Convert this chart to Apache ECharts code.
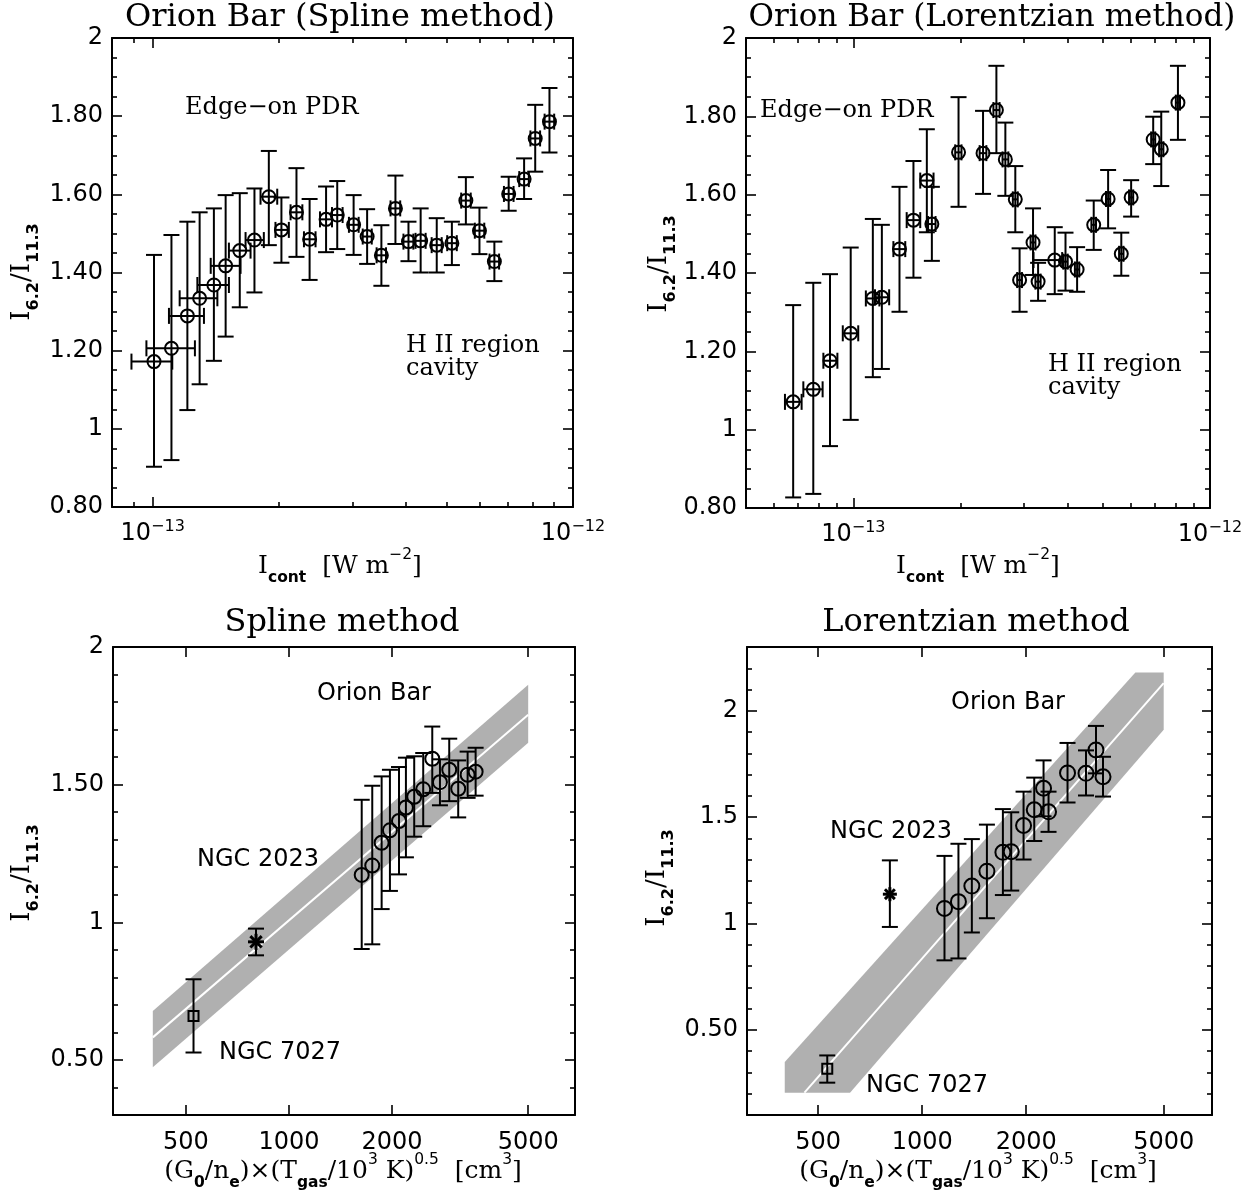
<!DOCTYPE html>
<html><head><meta charset="utf-8">
<script src="https://cdn.jsdelivr.net/npm/echarts@6/dist/echarts.min.js"></script>
<style>html,body{margin:0;padding:0;background:#fff}#c{width:1258px;height:1197px}</style>
</head><body><div id="c"></div>
<script>
// ---------- Top-left: Orion Bar, Spline method ----------
const splineX   = [1.007e-13,1.108e-13,1.209e-13,1.293e-13,1.398e-13,1.491e-13,1.611e-13,1.746e-13,1.889e-13,2.024e-13,2.198e-13,2.362e-13,2.585e-13,2.748e-13,3.006e-13,3.237e-13,3.50e-13,3.78e-13,4.06e-13,4.34e-13,4.74e-13,5.15e-13,5.56e-13,5.99e-13,6.50e-13,7.03e-13,7.65e-13,8.13e-13,8.79e-13];
const splineY   = [1.172,1.206,1.289,1.334,1.368,1.417,1.456,1.483,1.594,1.509,1.554,1.485,1.536,1.547,1.522,1.492,1.444,1.564,1.479,1.481,1.470,1.475,1.584,1.507,1.428,1.601,1.639,1.743,1.786];
const splineYLo = [0.903,0.920,1.048,1.114,1.174,1.236,1.311,1.349,1.470,1.425,1.440,1.381,1.452,1.460,1.445,1.422,1.366,1.473,1.429,1.400,1.400,1.419,1.523,1.447,1.378,1.558,1.588,1.658,1.707];
const splineYHi = [1.445,1.496,1.530,1.554,1.564,1.598,1.603,1.615,1.711,1.592,1.667,1.588,1.620,1.634,1.598,1.562,1.521,1.648,1.530,1.564,1.539,1.530,1.644,1.566,1.479,1.645,1.692,1.829,1.872];
const splineXLo = [0.890e-13,0.966e-13,1.093e-13,1.159e-13,1.277e-13,1.374e-13,1.518e-13,1.663e-13,1.805e-13,1.959e-13,2.128e-13,2.29e-13,2.50e-13,2.67e-13,2.93e-13,3.16e-13,3.41e-13,3.68e-13,3.95e-13,4.22e-13,4.61e-13,5.02e-13,5.42e-13,5.84e-13,6.33e-13,6.85e-13,7.45e-13,7.92e-13,8.56e-13];
const splineXHi = [1.113e-13,1.26e-13,1.324e-13,1.425e-13,1.518e-13,1.618e-13,1.709e-13,1.838e-13,1.978e-13,2.108e-13,2.27e-13,2.44e-13,2.67e-13,2.83e-13,3.09e-13,3.32e-13,3.59e-13,3.88e-13,4.17e-13,4.46e-13,4.87e-13,5.29e-13,5.71e-13,6.15e-13,6.67e-13,7.22e-13,7.85e-13,8.35e-13,9.02e-13];

// ---------- Top-right: Orion Bar, Lorentzian method ----------
const lorX   = [6.78e-14,7.72e-14,8.60e-14,9.83e-14,1.134e-13,1.202e-13,1.347e-13,1.474e-13,1.607e-13,1.66e-13,1.972e-13,2.31e-13,2.518e-13,2.668e-13,2.845e-13,2.925e-13,3.19e-13,3.296e-13,3.67e-13,3.934e-13,4.24e-13,4.72e-13,5.18e-13,5.64e-13,6.01e-13,6.93e-13,7.30e-13,8.13e-13];
const lorY   = [1.071,1.103,1.176,1.246,1.335,1.338,1.461,1.535,1.636,1.525,1.708,1.706,1.816,1.690,1.588,1.382,1.478,1.378,1.433,1.429,1.409,1.523,1.589,1.449,1.593,1.741,1.716,1.835];
const lorYLo = [0.827,0.836,0.958,1.025,1.134,1.155,1.301,1.388,1.504,1.431,1.569,1.602,1.706,1.597,1.504,1.301,1.395,1.329,1.346,1.355,1.352,1.459,1.514,1.393,1.544,1.678,1.622,1.740];
const lorYHi = [1.318,1.375,1.397,1.465,1.538,1.523,1.620,1.686,1.767,1.620,1.849,1.814,1.929,1.784,1.673,1.463,1.565,1.426,1.517,1.503,1.466,1.585,1.663,1.503,1.637,1.799,1.812,1.929];
const lorXLo = [6.43e-14,7.24e-14,8.24e-14,9.34e-14,1.084e-13,1.15e-13,1.295e-13,1.411e-13,1.54e-13,1.62e-13,1.93e-13,2.26e-13,2.47e-13,2.62e-13,2.80e-13,2.88e-13,3.14e-13,3.24e-13,3.20e-13,3.88e-13,4.18e-13,4.65e-13,5.11e-13,5.56e-13,5.93e-13,6.84e-13,7.20e-13,8.02e-13];
const lorXHi = [7.16e-14,8.20e-14,9.02e-14,1.032e-13,1.183e-13,1.26e-13,1.398e-13,1.54e-13,1.678e-13,1.70e-13,2.01e-13,2.36e-13,2.57e-13,2.72e-13,2.89e-13,2.97e-13,3.24e-13,3.35e-13,3.85e-13,3.99e-13,4.30e-13,4.79e-13,5.25e-13,5.72e-13,6.09e-13,7.02e-13,7.40e-13,8.24e-13];

// ---------- Bottom panels: (G0/ne)x(Tgas/1e3K)^0.5 of the first 14 Orion Bar points ----------
const splineG = [1631,1751,1865,1972,2096,2196,2322,2467,2622,2761,2939,3122,3326,3510];
const lorG    = [1160,1273,1392,1539,1712,1810,1965,2110,2245,2321,2634,2979,3184,3337];
// NGC objects: [x, y, yLo, yHi]
const splineNGC7027 = [526, 0.660, 0.527, 0.793];
const splineNGC2023 = [801, 0.929, 0.880, 0.977];
const lorNGC7027    = [531, 0.317, 0.252, 0.380];
const lorNGC2023    = [806, 1.138, 0.984, 1.297];
// relation bands (polygon vertices) and central lines
const splineBandX = [400, 5000, 5000, 400];
const splineBandY = [0.678, 1.863, 1.652, 0.473];
const splineLineX = [400, 5000];
const splineLineY = [0.582, 1.754];
const lorBandX = [400, 4140, 5000, 5000, 618, 400];
const lorBandY = [0.349, 2.18, 2.18, 1.911, 0.205, 0.205];
const lorLineX = [456, 5000];
const lorLineY = [0.205, 2.13];

// ---------- ticks ----------
const topXMajor = [1e-13, 1e-12];
const tlXMinor = [9e-14,2e-13,3e-13,4e-13,5e-13,6e-13,7e-13,8e-13,9e-13];
const trXMinor = [6e-14,7e-14,8e-14,9e-14,2e-13,3e-13,4e-13,5e-13,6e-13,7e-13,8e-13,9e-13];
const topYMajor = [0.8,1,1.2,1.4,1.6,1.8,2];
const topYLabels = ['0.80','1','1.20','1.40','1.60','1.80','2'];
const topYMinor = [0.85,0.9,0.95,1.05,1.1,1.15,1.25,1.3,1.35,1.45,1.5,1.55,1.65,1.7,1.75,1.85,1.9,1.95];
const botXMajor = [500,1000,2000,5000];
const botXLabels = ['500','1000','2000','5000'];
const blYMajor = [0.5,1,1.5,2];
const blYLabels = ['0.50','1','1.50','2'];
const blYMinor = [0.3,0.4,0.6,0.7,0.8,0.9,1.1,1.2,1.3,1.4,1.6,1.7,1.8,1.9];
const brYMajor = [0.5,1,1.5,2];
const brYLabels = ['0.50','1','1.5','2'];
const brYMinor = [0.2,0.3,0.4,0.6,0.7,0.8,0.9,1.1,1.2,1.3,1.4,1.6,1.7,1.8,1.9,2.1,2.2];

const FS = 'DejaVu Sans', FSERIF = 'DejaVu Serif';

function labelFrom(values, labels) {
  return function (v) {
    for (let i = 0; i < values.length; i++) if (Math.abs(values[i] - v) < 1e-9 * Math.max(1, Math.abs(v))) return labels[i];
    return '';
  };
}
function logFmt(v) {
  const e = Math.round(Math.log10(v));
  return '{b|10}{s|\u2212' + Math.abs(e) + '}';
}
const logRich = {
  b: {fontSize: 24, lineHeight: 30, fontFamily: FS, color: '#000'},
  s: {fontSize: 16, lineHeight: 16, fontFamily: FS, color: '#000', verticalAlign: 'top'}
};

function buildAxes(g, dim, type, min, max, majors, minors, formatter, rich, margin) {
  const main = dim === 'x' ? 'bottom' : 'left';
  const opp = dim === 'x' ? 'top' : 'right';
  const base = {gridIndex: g, type: type, min: min, max: max, splitLine: {show: false}, splitArea: {show: false}, minorTick: {show: false}, silent: true};
  if (type === 'log') base.logBase = 10;
  const line = {show: true, onZero: false, lineStyle: {color: '#000', width: 2}};
  const ts = {color: '#000', width: 1.6};
  const mk = (pos, axisLine, vals, len, label) => Object.assign({}, base, {
    position: pos, axisLine: axisLine,
    axisTick: {show: true, inside: true, length: len, customValues: vals, lineStyle: ts},
    axisLabel: label
  });
  const lab = {show: true, customValues: majors, formatter: formatter, margin: margin, color: '#000', fontFamily: FS, fontSize: 24};
  if (rich) lab.rich = rich;
  const arr = [
    mk(main, line, majors, 10, lab),
    mk(opp, line, majors, 10, {show: false})
  ];
  if (minors && minors.length) {
    arr.push(mk(main, {show: false}, minors, 5, {show: false}));
    arr.push(mk(opp, {show: false}, minors, 5, {show: false}));
  }
  return arr;
}

function errRender(marker, r, cap, lw) {
  return function (params, api) {
    const x = api.value(0), y = api.value(1);
    const c = api.coord([x, y]);
    const st = {stroke: '#000', lineWidth: lw};
    const ch = [];
    const L = (x1, y1, x2, y2) => ch.push({type: 'line', shape: {x1, y1, x2, y2}, style: st});
    const lo = api.value(2), hi = api.value(3);
    if (isFinite(lo) && isFinite(hi)) {
      const a = api.coord([x, lo]), b = api.coord([x, hi]);
      L(c[0], a[1], c[0], b[1]);
      L(c[0] - cap, a[1], c[0] + cap, a[1]);
      L(c[0] - cap, b[1], c[0] + cap, b[1]);
    }
    const xl = api.value(4), xh = api.value(5);
    if (isFinite(xl) && isFinite(xh)) {
      const a = api.coord([xl, y]), b = api.coord([xh, y]);
      L(a[0], c[1], b[0], c[1]);
      L(a[0], c[1] - cap, a[0], c[1] + cap);
      L(b[0], c[1] - cap, b[0], c[1] + cap);
    }
    if (marker === 'circle') {
      ch.push({type: 'circle', shape: {cx: c[0], cy: c[1], r: r}, style: {fill: 'none', stroke: '#000', lineWidth: 2}});
    } else if (marker === 'square') {
      ch.push({type: 'rect', shape: {x: c[0] - r, y: c[1] - r, width: 2 * r, height: 2 * r}, style: {fill: 'none', stroke: '#000', lineWidth: 2}});
    } else if (marker === 'star') {
      for (let k = 0; k < 4; k++) {
        const ang = k * Math.PI / 4;
        ch.push({type: 'line', shape: {x1: c[0] - r * Math.cos(ang), y1: c[1] - r * Math.sin(ang), x2: c[0] + r * Math.cos(ang), y2: c[1] + r * Math.sin(ang)}, style: {stroke: '#000', lineWidth: 3}});
      }
    }
    return {type: 'group', children: ch};
  };
}

function bandRender(xs, ys) {
  return function (params, api) {
    if (params.dataIndex !== 0) return null;
    const pts = xs.map((x, i) => api.coord([x, ys[i]]));
    return {type: 'polygon', shape: {points: pts}, style: {fill: '#b0b0b0', stroke: null}};
  };
}

const grids = [
  {left: 112, top: 38, width: 461, height: 469},
  {left: 746, top: 38, width: 464, height: 470},
  {left: 113, top: 647, width: 462, height: 468},
  {left: 747, top: 647, width: 465, height: 468}
];

const xAxes = [].concat(
  buildAxes(0, 'x', 'log', 8e-14, 1e-12, topXMajor, tlXMinor, logFmt, logRich, 12),
  buildAxes(1, 'x', 'log', 5e-14, 1e-12, topXMajor, trXMinor, logFmt, logRich, 12),
  buildAxes(2, 'x', 'log', 306, 6850, botXMajor, [], labelFrom(botXMajor, botXLabels), null, 16),
  buildAxes(3, 'x', 'log', 311, 6900, botXMajor, [], labelFrom(botXMajor, botXLabels), null, 16)
);
const yAxes = [].concat(
  buildAxes(0, 'y', 'value', 0.8, 2, topYMajor, topYMinor, labelFrom(topYMajor, topYLabels), null, 9),
  buildAxes(1, 'y', 'value', 0.8, 2, topYMajor, topYMinor, labelFrom(topYMajor, topYLabels), null, 9),
  buildAxes(2, 'y', 'value', 0.3, 2, blYMajor, blYMinor, labelFrom(blYMajor, blYLabels), null, 9),
  buildAxes(3, 'y', 'value', 0.1, 2.3, brYMajor, brYMinor, labelFrom(brYMajor, brYLabels), null, 9)
);
// axis index of the main (labelled) axis of each grid
const xi = [0, 4, 8, 10];
const yi = [0, 4, 8, 12];

function pts(xs, ys, lo, hi, xlo, xhi) {
  return xs.map((x, i) => xlo ? [x, ys[i], lo[i], hi[i], xlo[i], xhi[i]] : [x, ys[i], lo[i], hi[i]]);
}

const series = [
  {type: 'custom', xAxisIndex: xi[0], yAxisIndex: yi[0], renderItem: errRender('circle', 6.5, 8, 2), data: pts(splineX, splineY, splineYLo, splineYHi, splineXLo, splineXHi), z: 5},
  {type: 'custom', xAxisIndex: xi[1], yAxisIndex: yi[1], renderItem: errRender('circle', 6.5, 8, 2), data: pts(lorX, lorY, lorYLo, lorYHi, lorXLo, lorXHi), z: 5},
  {type: 'custom', xAxisIndex: xi[2], yAxisIndex: yi[2], renderItem: bandRender(splineBandX, splineBandY), data: splineBandX.map((x, i) => [x, splineBandY[i]]), z: 1},
  {type: 'line', xAxisIndex: xi[2], yAxisIndex: yi[2], data: splineLineX.map((x, i) => [x, splineLineY[i]]), symbol: 'none', lineStyle: {color: '#fff', width: 2}, silent: true, z: 2},
  {type: 'custom', xAxisIndex: xi[2], yAxisIndex: yi[2], renderItem: errRender('circle', 7, 8, 2), data: pts(splineG, splineY.slice(0, 14), splineYLo.slice(0, 14), splineYHi.slice(0, 14)), z: 5},
  {type: 'custom', xAxisIndex: xi[2], yAxisIndex: yi[2], renderItem: errRender('square', 5, 8, 2), data: [splineNGC7027], z: 5},
  {type: 'custom', xAxisIndex: xi[2], yAxisIndex: yi[2], renderItem: errRender('star', 8, 8, 2), data: [splineNGC2023], z: 5},
  {type: 'custom', xAxisIndex: xi[3], yAxisIndex: yi[3], renderItem: bandRender(lorBandX, lorBandY), data: lorBandX.map((x, i) => [x, lorBandY[i]]), z: 1},
  {type: 'line', xAxisIndex: xi[3], yAxisIndex: yi[3], data: lorLineX.map((x, i) => [x, lorLineY[i]]), symbol: 'none', lineStyle: {color: '#fff', width: 2}, silent: true, z: 2},
  {type: 'custom', xAxisIndex: xi[3], yAxisIndex: yi[3], renderItem: errRender('circle', 7.5, 8, 2), data: pts(lorG, lorY.slice(0, 14), lorYLo.slice(0, 14), lorYHi.slice(0, 14)), z: 5},
  {type: 'custom', xAxisIndex: xi[3], yAxisIndex: yi[3], renderItem: errRender('square', 5, 8, 2), data: [lorNGC7027], z: 5},
  {type: 'custom', xAxisIndex: xi[3], yAxisIndex: yi[3], renderItem: errRender('star', 7, 8, 2), data: [lorNGC2023], z: 5}
];

function txt(x, y, text, size, family, align) {
  return {type: 'text', x: x, y: y, z: 100, silent: true,
    style: {text: text, fill: '#000', fontSize: size, fontFamily: family, align: align || 'left', verticalAlign: 'middle'}};
}
function richStyle(size) {
  return {
    i: {fontSize: size, fontFamily: FSERIF, fill: '#000', lineHeight: size + 14},
    sb: {fontSize: size * 0.62, fontFamily: FS, fontWeight: 'bold', fill: '#000', lineHeight: size * 0.62, verticalAlign: 'bottom'},
    sp: {fontSize: size * 0.62, fontFamily: FS, fill: '#000', lineHeight: size * 0.62, verticalAlign: 'top'}
  };
}
function rtxt(x, y, text, size, rot) {
  return {type: 'text', x: x, y: y, rotation: rot || 0, z: 100, silent: true,
    style: {text: text, rich: richStyle(size), fill: '#000', fontSize: size, fontFamily: FSERIF, align: 'center', verticalAlign: 'middle'}};
}

const yName = '{i|I}{sb|6.2}{i|/I}{sb|11.3}';
const xNameTop = '{i|I}{sb|cont}{i|  [W m}{sp|\u22122}{i|]}';
const xNameBot = '{i|(G}{sb|0}{i|/n}{sb|e}{i|)\u00d7(T}{sb|gas}{i|/10}{sp|3}{i| K)}{sp|0.5}{i|  [cm}{sp|3}{i|]}';

const graphics = [
  txt(340, 18, 'Orion Bar (Spline method)', 32, FSERIF, 'center'),
  txt(992, 18, 'Orion Bar (Lorentzian method)', 31, FSERIF, 'center'),
  txt(342, 623, 'Spline method', 32, FSERIF, 'center'),
  txt(976, 623, 'Lorentzian method', 32, FSERIF, 'center'),
  txt(185, 108, 'Edge\u2212on PDR', 24, FSERIF),
  txt(406, 346, 'H II region', 24, FSERIF),
  txt(406, 369, 'cavity', 24, FSERIF),
  txt(760, 111, 'Edge\u2212on PDR', 24, FSERIF),
  txt(1048, 365, 'H II region', 24, FSERIF),
  txt(1048, 388, 'cavity', 24, FSERIF),
  txt(317, 694, 'Orion Bar', 24, FS),
  txt(197, 860, 'NGC 2023', 24, FS),
  txt(219, 1053, 'NGC 7027', 24, FS),
  txt(951, 703, 'Orion Bar', 24, FS),
  txt(830, 832, 'NGC 2023', 24, FS),
  txt(866, 1086, 'NGC 7027', 24, FS),
  rtxt(22, 272, yName, 26, Math.PI / 2),
  rtxt(659, 264, yName, 26, Math.PI / 2),
  rtxt(22, 873, yName, 26, Math.PI / 2),
  rtxt(657, 878, yName, 26, Math.PI / 2),
  rtxt(340, 566, xNameTop, 25),
  rtxt(978, 566, xNameTop, 25),
  rtxt(343, 1171, xNameBot, 25),
  rtxt(978, 1171, xNameBot, 25)
];

const chart = echarts.init(document.getElementById('c'), null, {renderer: 'canvas'});
chart.setOption({
  animation: false,
  backgroundColor: '#fff',
  grid: grids,
  xAxis: xAxes,
  yAxis: yAxes,
  series: series,
  graphic: graphics
});
</script></body></html>
